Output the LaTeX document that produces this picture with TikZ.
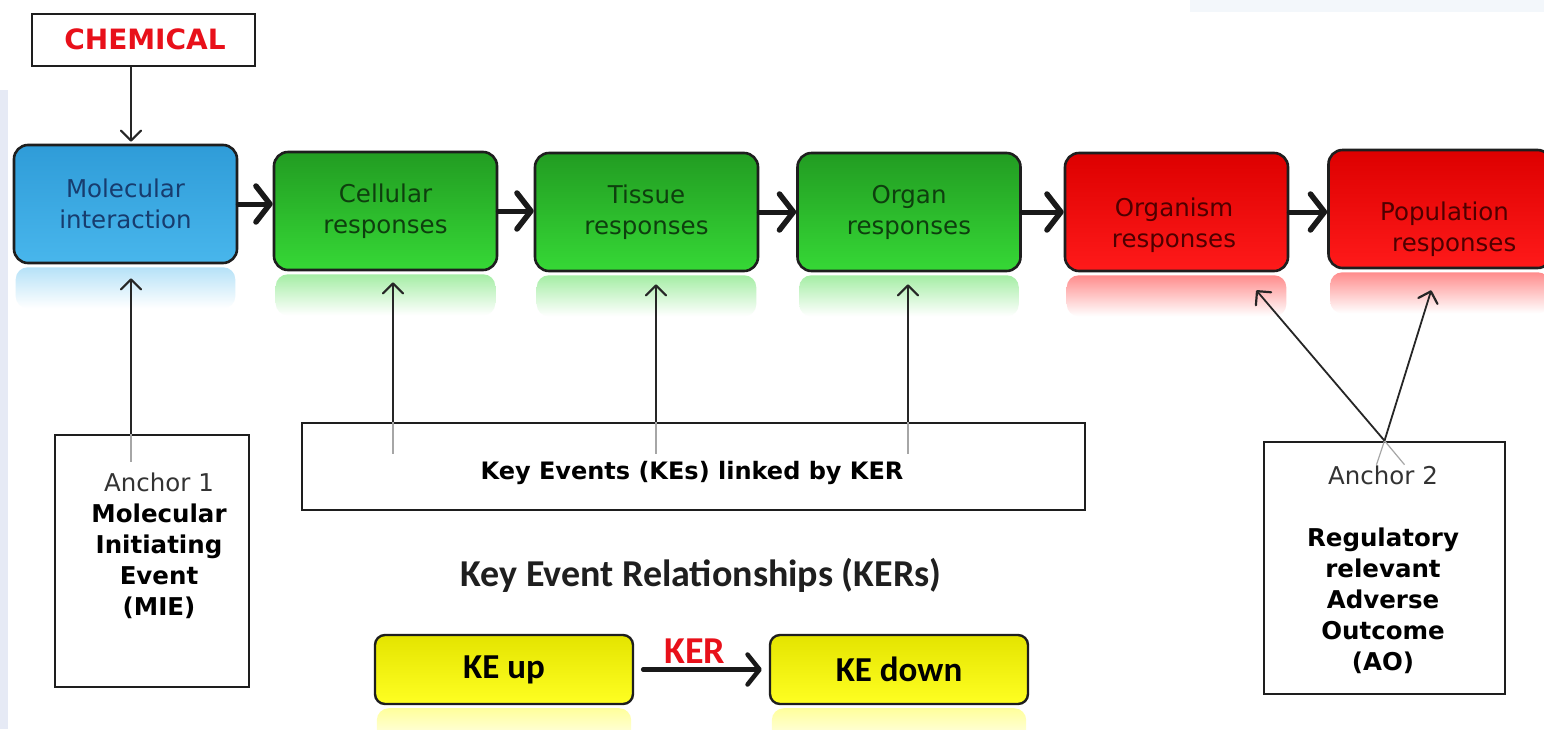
\documentclass[tikz,border=0pt]{standalone}
\usepackage{fontspec}
\setmainfont{DejaVu Sans}
\newfontfamily\calib{Carlito}
\usetikzlibrary{arrows.meta,calc}
\definecolor{bord}{HTML}{1E1E1E}
\definecolor{bluetop}{HTML}{2F9CD8}
\definecolor{bluebot}{HTML}{48B6EC}
\definecolor{bluetext}{HTML}{173C6E}
\definecolor{greentop}{HTML}{229C22}
\definecolor{greenbot}{HTML}{36D836}
\definecolor{greentext}{HTML}{0E3F0E}
\definecolor{redtop}{HTML}{DD0000}
\definecolor{redbot}{HTML}{FF1A1A}
\definecolor{redtext}{HTML}{4E0000}
\definecolor{yeltop}{HTML}{E4E400}
\definecolor{yelbot}{HTML}{FFFF22}
\definecolor{chemred}{HTML}{E8101A}
\definecolor{lstrip}{HTML}{E6EAF5}
\definecolor{tstrip}{HTML}{F3F7FB}
\newcommand\myrefl[2]{%
  \shade[top color=#2, bottom color=white, rounded corners=12pt]
    ($(#1.south west)+(3,3)$) rectangle ($(#1.south east)+(-3,44)$);}
\begin{document}
\begin{tikzpicture}[x=1pt,y=-1pt,
  chainbox/.style={draw=bord, line width=2.6pt, rounded corners=14pt,
    minimum width=223pt, minimum height=118pt, inner sep=0pt, align=center,
    font=\fontsize{24.5}{31}\selectfont},
  bluebox/.style={chainbox, top color=bluetop, bottom color=bluebot, text=bluetext},
  greenbox/.style={chainbox, top color=greentop, bottom color=greenbot, text=greentext},
  redbox/.style={chainbox, top color=redtop, bottom color=redbot, text=redtext},
  yelbox/.style={draw=bord, line width=2.4pt, rounded corners=10pt,
    minimum width=258pt, minimum height=69pt, inner sep=0pt,
    top color=yeltop, bottom color=yelbot, font=\calib\bfseries\fontsize{35}{38}\selectfont},
  plainbox/.style={draw=bord, line width=2.6pt, fill=white, inner sep=0pt},
  txt/.style={inner sep=0pt, align=center, font=\fontsize{24.5}{31}\selectfont},
  bigarr/.style={line width=5pt, draw=black!90, line cap=round,
    -{Straight Barb[length=14pt,width=36pt,line width=5.5pt,round]}},
  thinarr/.style={line width=1.8pt, draw=black!85,
    -{Straight Barb[length=10pt,width=20pt,line width=2.2pt,round]}},
  faint/.style={line width=1.2pt, draw=black!35}
]
\useasboundingbox (0,0) rectangle (1544,729);
\fill[white] (0,0) rectangle (1544,729);
\fill[lstrip] (0,90) rectangle (8,729);
\fill[tstrip] (1190,0) rectangle (1544,12);

% top chain
\node[plainbox, minimum width=223pt, minimum height=52pt] (chem) at (143.5,40) {};
\node[txt, text=chemred, font=\bfseries\fontsize{28}{30}\selectfont] (chemT) at (145,39) {CHEMICAL};

\node[bluebox]  (mol)  at (125.5,204) {Molecular\\interaction};
\node[greenbox] (cel)  at (385.5,211) {Cellular\\responses};
\node[greenbox] (tis)  at (646.5,212) {Tissue\\responses};
\node[greenbox] (org)  at (909,212)   {Organ\\responses};
\node[redbox]   (orgm) at (1176.5,212) {};
\node[redbox]   (pop)  at (1440,209) {};
\node[txt, text=redtext] (orgmT) at (1174,225) {Organism\\responses};
\node[txt, text=redtext, align=left, anchor=west] (popT) at (1380,229) {Population\\\hspace*{12pt}responses};

\myrefl{mol}{bluebot!40!white}
\myrefl{cel}{greenbot!45!white}
\myrefl{tis}{greenbot!45!white}
\myrefl{org}{greenbot!45!white}
\myrefl{orgm}{redbot!50!white}
\myrefl{pop}{redbot!50!white}

\draw[bigarr] (mol.east)  -- (mol.east -| cel.west);
\draw[bigarr] (cel.east)  -- (cel.east -| tis.west);
\draw[bigarr] (tis.east)  -- (tis.east -| org.west);
\draw[bigarr] (org.east)  -- (org.east -| orgm.west);
\draw[bigarr] (orgm.east) -- (orgm.east -| pop.west);

% chemical arrow
\coordinate (cx) at (131,0);
\draw[thinarr] (chem.south -| cx) -- ($(mol.north -| cx)+(0,-2)$);

% lower boxes
\node[plainbox, minimum width=194pt, minimum height=252pt] (a1) at (152,561) {};
\node[txt, text=black!80] (a1T) at (159,546) {Anchor 1\\\textcolor{black}{\textbf{Molecular}}\\\textcolor{black}{\textbf{Initiating}}\\\textcolor{black}{\textbf{Event}}\\\textcolor{black}{\textbf{(MIE)}}};

\node[plainbox, minimum width=783pt, minimum height=87pt] (ke) at (693.5,466.5) {};
\node[txt, font=\bfseries\fontsize{24}{30}\selectfont] (keT) at (692,473) {Key Events (KEs) linked by KER};

\node[plainbox, minimum width=241pt, minimum height=252pt] (a2) at (1384.5,568) {};
\node[txt, text=black!80] (a2T) at (1383,570) {Anchor 2\\[31pt]\textcolor{black}{\textbf{Regulatory}}\\\textcolor{black}{\textbf{relevant}}\\\textcolor{black}{\textbf{Adverse}}\\\textcolor{black}{\textbf{Outcome}}\\\textcolor{black}{\textbf{(AO)}}};

% up arrows
\draw[faint] (a1.north -| cx) -- ++(0,28);
\draw[thinarr] (a1.north -| cx) -- ($(mol.south -| cx)+(0,14)$);
\coordinate (k1) at (393,0);
\coordinate (k2) at (656,0);
\coordinate (k3) at (908,0);
\draw[faint] (ke.north -| k1) -- ++(0,32);
\draw[faint] (ke.north -| k2) -- ++(0,32);
\draw[faint] (ke.north -| k3) -- ++(0,32);
\draw[thinarr] (ke.north -| k1) -- ($(cel.south -| k1)+(0,11)$);
\draw[thinarr] (ke.north -| k2) -- ($(tis.south -| k2)+(0,12)$);
\draw[thinarr] (ke.north -| k3) -- ($(org.south -| k3)+(0,12)$);

\draw[faint] (a2.north) -- ++(20,24);
\draw[faint] (a2.north) -- ++(-8,24);
\draw[thinarr] (a2.north) -- ($(orgm.south east)+(-33,18)$);
\draw[thinarr] (a2.north) -- ($(pop.south west)+(104,21)$);

% KERs legend
\node[txt, font=\calib\bfseries\fontsize{38}{40}\selectfont, text=black!88] (kers) at (701,575) {Key Event Relationships (KERs)};
\node[yelbox] (keup)   at (504,669.5) {KE up};
\node[yelbox] (kedown) at (899,669.5) {KE down};
\myrefl{keup}{yelbot!45!white}
\myrefl{kedown}{yelbot!45!white}
\draw[line width=4.5pt, draw=black!90, line cap=round,
  -{Straight Barb[length=12pt,width=30pt,line width=4.5pt,round]}]
  ($(keup.east)+(9,0)$) -- ($(kedown.west)+(-7,0)$);
\node[txt, text=chemred, font=\calib\bfseries\fontsize{38}{40}\selectfont] (kerL) at (695,651) {KER};
\end{tikzpicture}
\end{document}
